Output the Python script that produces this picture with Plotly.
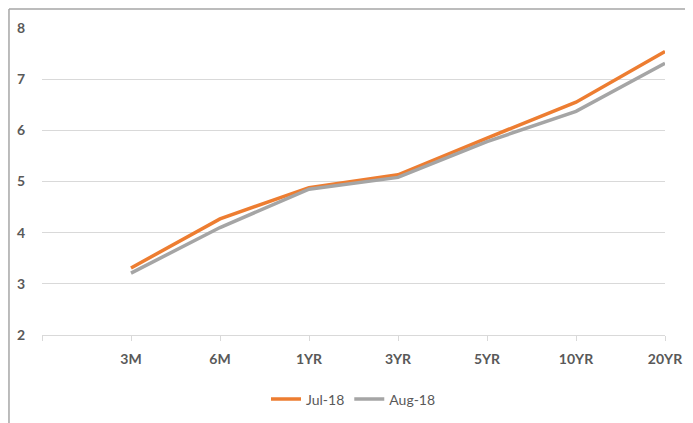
import plotly.graph_objects as go

categories = ["", "3M", "6M", "1YR", "3YR", "5YR", "10YR", "20YR"]
tenors = ["3M", "6M", "1YR", "3YR", "5YR", "10YR", "20YR"]
jul_18 = [3.31, 4.27, 4.88, 5.13, 5.85, 6.55, 7.54]
aug_18 = [3.21, 4.10, 4.85, 5.08, 5.78, 6.37, 7.31]

xpos = [categories.index(t) for t in tenors]

fig = go.Figure()
fig.add_trace(go.Scatter(x=xpos, y=jul_18, mode="lines", name="Jul-18",
                         line=dict(color="#ED7D31", width=3.5)))
fig.add_trace(go.Scatter(x=xpos, y=aug_18, mode="lines", name="Aug-18",
                         line=dict(color="#A5A5A5", width=3.5)))

font_family = "Liberation Sans Narrow, Lato, Arial"

fig.update_layout(
    width=685, height=415,
    margin=dict(l=34, r=28, t=20, b=88, autoexpand=False),
    paper_bgcolor="white", plot_bgcolor="white",
    showlegend=True,
    legend=dict(orientation="h", x=0.5, xanchor="center", y=-0.21, yanchor="middle",
                font=dict(family=font_family, size=14, color="#595959"),
                itemwidth=30),
    xaxis=dict(
        range=[0, len(categories) - 1],
        tickmode="array",
        tickvals=list(range(len(categories))),
        ticktext=categories,
        showgrid=False,
        showline=True, linecolor="#D9D9D9", linewidth=1,
        ticks="outside", ticklen=5, tickcolor="#D9D9D9",
        ticklabelstandoff=6,
        tickfont=dict(family=font_family, size=14, color="#595959", weight="bold"),
        zeroline=False, automargin=False,
        fixedrange=True,
    ),
    yaxis=dict(
        range=[2, 8],
        tickvals=[2, 3, 4, 5, 6, 7, 8],
        showgrid=True, gridcolor="#D9D9D9", gridwidth=1,
        showline=False, zeroline=False,
        ticks="", ticklabelstandoff=16,
        tickfont=dict(family=font_family, size=14, color="#595959", weight="bold"),
        automargin=False,
        fixedrange=True,
    ),
    shapes=[
        dict(type="line", xref="paper", yref="paper", x0=-0.053, x1=1.1, y0=1.062, y1=1.062,
             line=dict(color="#A6A6A6", width=1.5)),
        dict(type="line", xref="paper", yref="paper", x0=-0.053, x1=-0.053, y0=1.062, y1=-0.4,
             line=dict(color="#A6A6A6", width=1.5)),
    ],
)

fig.write_html("out.html")
